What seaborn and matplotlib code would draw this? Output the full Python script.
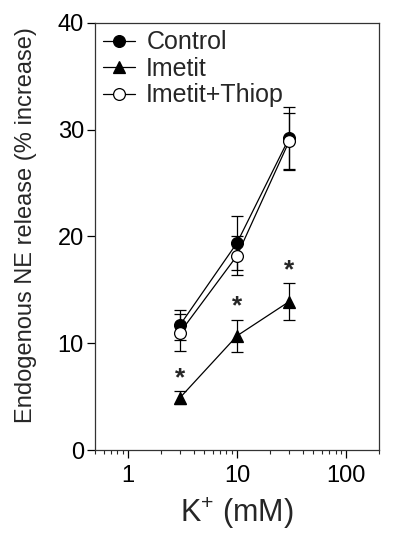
import matplotlib
matplotlib.use("Agg")
import matplotlib.pyplot as plt
import matplotlib.ticker as mticker
import pandas as pd
import seaborn as sns

# K+ concentration (mM)
k_conc = [3, 10, 30]

control = [11.7, 19.4, 29.2]
control_err = [1.4, 2.5, 2.9]

imetit = [4.9, 10.7, 13.9]
imetit_err = [0.6, 1.5, 1.7]

imetit_thiop = [11.0, 18.2, 28.9]
imetit_thiop_err = [1.7, 1.8, 2.7]

series_names = ["Control", "Imetit", "Imetit+Thiop"]

sns.set_style("ticks")
plt.rcParams["font.family"] = ["Liberation Sans", "DejaVu Sans"]
plt.rcParams["mathtext.fontset"] = "custom"
plt.rcParams["mathtext.rm"] = "Liberation Sans"

fig, ax = plt.subplots(figsize=(4.0, 5.43), dpi=100)
fig.subplots_adjust(left=0.2375, right=0.9475, top=0.958, bottom=0.171)

styles = [
    dict(marker="o", mfc="black", mec="black"),
    dict(marker="^", mfc="black", mec="black"),
    dict(marker="o", mfc="white", mec="black"),
]
values = [control, imetit, imetit_thiop]
errors = [control_err, imetit_err, imetit_thiop_err]

for name, y, yerr, st in zip(series_names, values, errors, styles):
    df = pd.DataFrame({"K": k_conc, "release": y})
    ax.errorbar(k_conc, y, yerr=yerr, fmt="none", ecolor="black",
                elinewidth=0.9, capsize=4.5, capthick=0.9, zorder=2)
    sns.lineplot(data=df, x="K", y="release", ax=ax, color="black",
                 linewidth=0.9, marker=st["marker"], markersize=8.5,
                 markerfacecolor=st["mfc"], markeredgecolor=st["mec"],
                 markeredgewidth=0.9, label=name, zorder=3)

# significance stars above Imetit
for x, y, e in zip(k_conc, imetit, imetit_err):
    ax.text(x, y + e + 0.1, "*", ha="center", va="bottom", fontsize=19,
            fontweight="bold")

ax.set_xscale("log")
ax.set_xlim(0.5, 200)
ax.set_ylim(0, 40)
ax.set_yticks([0, 10, 20, 30, 40])
ax.xaxis.set_major_formatter(mticker.FuncFormatter(lambda v, p: f"{v:g}"))
ax.xaxis.set_minor_formatter(mticker.NullFormatter())

ax.tick_params(axis="both", which="major", labelsize=17, length=6, width=0.9,
               direction="out", colors="black", pad=2)
ax.tick_params(axis="x", which="minor", length=3, width=0.8, direction="out")
ax.tick_params(axis="x", which="major", pad=5)
for s in ax.spines.values():
    s.set_linewidth(0.9)
    s.set_color("#333333")

ax.set_xlabel("K$^{+}$ (mM)", fontsize=22, labelpad=6)
ax.set_ylabel("Endogenous NE release (% increase)", fontsize=17, labelpad=2)
ax.yaxis.set_label_coords(-0.205, 0.526)

leg = ax.legend(loc="upper left", frameon=False, fontsize=18,
                handlelength=1.3, handletextpad=0.45, borderaxespad=0.1,
                labelspacing=0.1, borderpad=0.2)

fig.savefig("out.png", dpi=100)
